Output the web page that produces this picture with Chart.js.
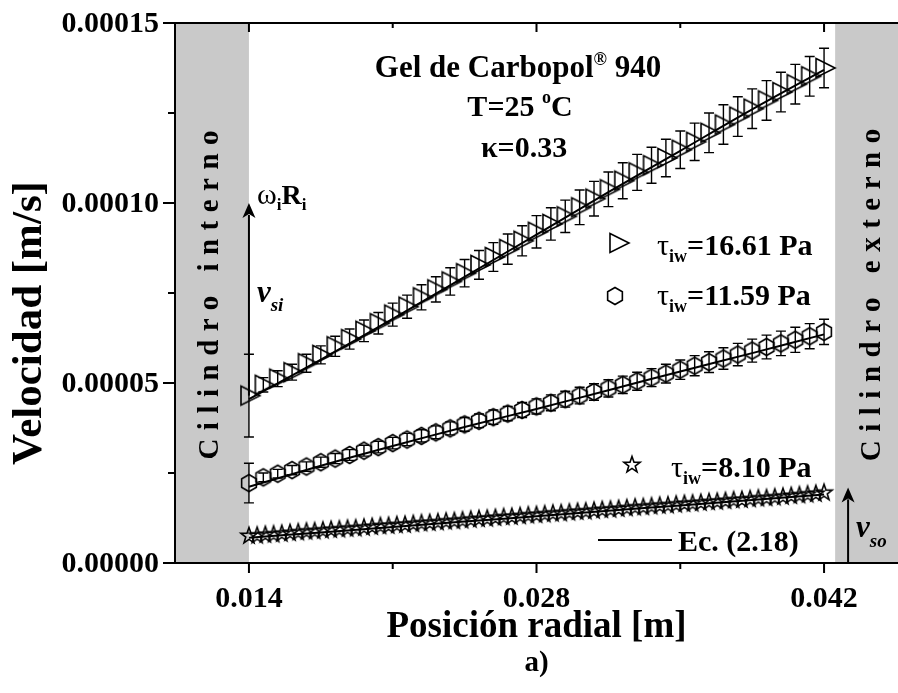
<!DOCTYPE html>
<html lang="es">
<head>
<meta charset="UTF-8">
<title>Perfil de velocidad - Gel de Carbopol 940</title>
<script src="https://cdn.jsdelivr.net/npm/chart.js"></script>
<style>
  body { margin: 0; background: #fff; }
  canvas { display: block; }
</style>
</head>
<body>
<canvas id="chart_vel" width="898" height="693"></canvas>
<script>
// posiciones radiales [m] de los perfiles con triángulos y hexágonos
const radio = [0.0140, 0.0147, 0.0154, 0.0161, 0.0168, 0.0175, 0.0182, 0.0189, 0.0196, 0.0203,
  0.0210, 0.0217, 0.0224, 0.0231, 0.0238, 0.0245, 0.0252, 0.0259, 0.0266, 0.0273,
  0.0280, 0.0287, 0.0294, 0.0301, 0.0308, 0.0315, 0.0322, 0.0329, 0.0336, 0.0343,
  0.0350, 0.0357, 0.0364, 0.0371, 0.0378, 0.0385, 0.0392, 0.0399, 0.0406, 0.0413, 0.0420];

// tau_iw = 16.61 Pa
const vel1661 = [4.65e-5, 4.95e-5, 5.12e-5, 5.30e-5, 5.55e-5, 5.78e-5, 6.02e-5, 6.22e-5, 6.45e-5, 6.66e-5,
  6.90e-5, 7.12e-5, 7.38e-5, 7.60e-5, 7.82e-5, 8.05e-5, 8.28e-5, 8.50e-5, 8.72e-5, 8.95e-5,
  9.20e-5, 9.42e-5, 9.63e-5, 9.88e-5, 10.12e-5, 10.38e-5, 10.62e-5, 10.85e-5, 11.05e-5, 11.25e-5,
  11.48e-5, 11.70e-5, 11.95e-5, 12.18e-5, 12.40e-5, 12.62e-5, 12.85e-5, 13.08e-5, 13.30e-5, 13.52e-5, 13.75e-5];
const err1661 = [1.15e-5, 0.20e-5, 0.22e-5, 0.22e-5, 0.25e-5, 0.25e-5, 0.28e-5, 0.28e-5, 0.30e-5, 0.30e-5,
  0.32e-5, 0.32e-5, 0.35e-5, 0.35e-5, 0.38e-5, 0.38e-5, 0.40e-5, 0.40e-5, 0.42e-5, 0.42e-5,
  0.45e-5, 0.45e-5, 0.45e-5, 0.48e-5, 0.48e-5, 0.48e-5, 0.50e-5, 0.50e-5, 0.50e-5, 0.52e-5,
  0.52e-5, 0.52e-5, 0.55e-5, 0.55e-5, 0.55e-5, 0.55e-5, 0.55e-5, 0.55e-5, 0.55e-5, 0.55e-5, 0.55e-5];

// tau_iw = 11.59 Pa
const vel1159 = [2.22e-5, 2.38e-5, 2.48e-5, 2.58e-5, 2.68e-5, 2.80e-5, 2.90e-5, 3.00e-5, 3.12e-5, 3.22e-5,
  3.33e-5, 3.43e-5, 3.53e-5, 3.63e-5, 3.74e-5, 3.85e-5, 3.95e-5, 4.05e-5, 4.15e-5, 4.25e-5,
  4.35e-5, 4.45e-5, 4.55e-5, 4.65e-5, 4.75e-5, 4.85e-5, 4.95e-5, 5.05e-5, 5.15e-5, 5.26e-5,
  5.37e-5, 5.48e-5, 5.58e-5, 5.68e-5, 5.79e-5, 5.90e-5, 6.00e-5, 6.10e-5, 6.20e-5, 6.30e-5, 6.42e-5];
const err1159 = [0.55e-5, 0.12e-5, 0.12e-5, 0.13e-5, 0.13e-5, 0.14e-5, 0.14e-5, 0.15e-5, 0.15e-5, 0.16e-5,
  0.16e-5, 0.17e-5, 0.17e-5, 0.18e-5, 0.18e-5, 0.19e-5, 0.19e-5, 0.20e-5, 0.20e-5, 0.21e-5,
  0.21e-5, 0.22e-5, 0.22e-5, 0.23e-5, 0.23e-5, 0.24e-5, 0.24e-5, 0.25e-5, 0.25e-5, 0.26e-5,
  0.27e-5, 0.28e-5, 0.29e-5, 0.30e-5, 0.31e-5, 0.32e-5, 0.33e-5, 0.34e-5, 0.35e-5, 0.35e-5, 0.35e-5];

// tau_iw = 8.10 Pa (malla más fina)
const radioEstrella = [0.0140, 0.0144, 0.0148, 0.0152, 0.0156, 0.0160, 0.0164, 0.0168, 0.0172, 0.0176,
  0.0180, 0.0184, 0.0188, 0.0192, 0.0196, 0.0200, 0.0204, 0.0208, 0.0212, 0.0216,
  0.0220, 0.0224, 0.0228, 0.0232, 0.0236, 0.0240, 0.0244, 0.0248, 0.0252, 0.0256,
  0.0260, 0.0264, 0.0268, 0.0272, 0.0276, 0.0280, 0.0284, 0.0288, 0.0292, 0.0296,
  0.0300, 0.0304, 0.0308, 0.0312, 0.0316, 0.0320, 0.0324, 0.0328, 0.0332, 0.0336,
  0.0340, 0.0344, 0.0348, 0.0352, 0.0356, 0.0360, 0.0364, 0.0368, 0.0372, 0.0376,
  0.0380, 0.0384, 0.0388, 0.0392, 0.0396, 0.0400, 0.0404, 0.0408, 0.0412, 0.0416, 0.0420];
const vel810 = [0.75e-5, 0.76e-5, 0.78e-5, 0.79e-5, 0.81e-5, 0.83e-5, 0.85e-5, 0.87e-5, 0.88e-5, 0.90e-5,
  0.92e-5, 0.93e-5, 0.95e-5, 0.96e-5, 0.98e-5, 1.00e-5, 1.02e-5, 1.03e-5, 1.05e-5, 1.06e-5,
  1.08e-5, 1.10e-5, 1.11e-5, 1.13e-5, 1.15e-5, 1.16e-5, 1.18e-5, 1.20e-5, 1.22e-5, 1.23e-5,
  1.25e-5, 1.27e-5, 1.28e-5, 1.30e-5, 1.32e-5, 1.33e-5, 1.35e-5, 1.37e-5, 1.38e-5, 1.40e-5,
  1.42e-5, 1.43e-5, 1.45e-5, 1.47e-5, 1.48e-5, 1.50e-5, 1.52e-5, 1.54e-5, 1.55e-5, 1.57e-5,
  1.59e-5, 1.60e-5, 1.62e-5, 1.64e-5, 1.65e-5, 1.67e-5, 1.69e-5, 1.70e-5, 1.72e-5, 1.74e-5,
  1.75e-5, 1.77e-5, 1.79e-5, 1.80e-5, 1.82e-5, 1.84e-5, 1.86e-5, 1.88e-5, 1.90e-5, 1.92e-5, 1.95e-5];

// Ec. (2.18)
const radioModelo = [0.014, 0.0175, 0.021, 0.0245, 0.028, 0.0315, 0.035, 0.0385, 0.042];
const modelo1661 = [4.55e-5, 5.65e-5, 6.78e-5, 7.95e-5, 9.12e-5, 10.30e-5, 11.45e-5, 12.60e-5, 13.70e-5];
const modelo1159 = [2.12e-5, 2.70e-5, 3.25e-5, 3.78e-5, 4.28e-5, 4.80e-5, 5.32e-5, 5.83e-5, 6.35e-5];
const modelo810 = [0.70e-5, 0.85e-5, 1.00e-5, 1.15e-5, 1.30e-5, 1.45e-5, 1.60e-5, 1.75e-5, 1.90e-5];

// ejes
const ticksX = [0.014, 0.028, 0.042];
const ticksXmenor = [0.021, 0.035];
const ticksY = [0, 0.00005, 0.0001, 0.00015];
const ticksYmenor = [0.000025, 0.000075, 0.000125];
const etiquetasX = ['0.014', '0.028', '0.042'];
const etiquetasY = ['0.00000', '0.00005', '0.00010', '0.00015'];

// paredes de los cilindros y velocidades de referencia
const paredInterna = 0.014;
const paredExterna = 0.04254;
const omegaRi = 0.0001;
const radioVso = 0.04317;
const vso = 2.1e-5;

const SERIF = '"Liberation Serif", "Times New Roman", serif';

function marca(trazo) {
  const c = document.createElement('canvas');
  c.width = 28; c.height = 28;
  const g = c.getContext('2d');
  g.translate(14, 14);
  g.strokeStyle = '#000';
  g.lineWidth = 1.6;
  g.beginPath();
  trazo(g);
  g.closePath();
  g.stroke();
  return c;
}

const triangulo = marca(g => { g.moveTo(-8, -9.5); g.lineTo(11, 0); g.lineTo(-8, 9.5); });
const hexagono = marca(g => {
  for (let k = 0; k < 6; k++) {
    const a = (-90 + 60 * k) * Math.PI / 180;
    g.lineTo(8.5 * Math.cos(a), 8.5 * Math.sin(a));
  }
});
const estrella = marca(g => {
  for (let k = 0; k < 10; k++) {
    const a = (-90 + 36 * k) * Math.PI / 180;
    const r = k % 2 ? 3.4 : 8.5;
    g.lineTo(r * Math.cos(a), r * Math.sin(a));
  }
});

const puntos = (xs, ys) => xs.map((x, i) => ({ x: x, y: ys[i] }));

// texto con sub/superíndices: [texto, fuente, desplazamiento vertical]
function texto(ctx, x, y, partes, align) {
  let w = 0;
  partes.forEach(p => { ctx.font = p[1]; w += ctx.measureText(p[0]).width; });
  let cx = align === 'center' ? x - w / 2 : (align === 'right' ? x - w : x);
  partes.forEach(p => {
    ctx.font = p[1];
    ctx.fillText(p[0], cx, y + (p[2] || 0));
    cx += ctx.measureText(p[0]).width;
  });
}

function flecha(ctx, x, y0, y1) {
  ctx.beginPath();
  ctx.moveTo(x, y0);
  ctx.lineTo(x, y1 + 12);
  ctx.lineWidth = 2;
  ctx.stroke();
  ctx.beginPath();
  ctx.moveTo(x, y1);
  ctx.lineTo(x - 6.5, y1 + 15);
  ctx.lineTo(x, y1 + 11);
  ctx.lineTo(x + 6.5, y1 + 15);
  ctx.closePath();
  ctx.fill();
}

function textoVertical(ctx, cx, cy, s, font, esp) {
  ctx.save();
  ctx.translate(cx, cy);
  ctx.rotate(-Math.PI / 2);
  ctx.font = font;
  ctx.letterSpacing = esp + 'px';
  const w = ctx.measureText(s).width - esp;
  ctx.textBaseline = 'middle';
  ctx.textAlign = 'left';
  ctx.fillText(s, -w / 2, 0);
  ctx.restore();
}

// franjas grises de los cilindros
const paredes = {
  id: 'paredes',
  beforeDatasetsDraw(chart) {
    const { ctx, chartArea: a, scales: { x } } = chart;
    const xi = x.getPixelForValue(paredInterna);
    const xe = x.getPixelForValue(paredExterna);
    ctx.save();
    ctx.fillStyle = '#c9c9c9';
    ctx.fillRect(a.left, a.top, xi - a.left, a.bottom - a.top);
    ctx.fillRect(xe, a.top, a.right - xe, a.bottom - a.top);
    ctx.fillStyle = '#000';
    const cy = (a.top + a.bottom) / 2 + 2;
    textoVertical(ctx, (a.left + xi) / 2 - 1, cy, 'Cilindro interno', 'bold 29px ' + SERIF, 8.5);
    textoVertical(ctx, xe + 37, cy, 'Cilindro externo', 'bold 29px ' + SERIF, 8.5);
    ctx.restore();
  }
};

// barras de error
const barras = {
  id: 'barras',
  afterDatasetsDraw(chart) {
    const { ctx, scales: { x, y } } = chart;
    ctx.save();
    ctx.strokeStyle = '#000';
    ctx.lineWidth = 1.4;
    [[vel1661, err1661], [vel1159, err1159]].forEach(([v, e]) => {
      radio.forEach((r, i) => {
        const px = x.getPixelForValue(r);
        const ya = y.getPixelForValue(v[i] + e[i]);
        const yb = y.getPixelForValue(v[i] - e[i]);
        ctx.beginPath();
        ctx.moveTo(px, ya); ctx.lineTo(px, yb);
        ctx.moveTo(px - 5, ya); ctx.lineTo(px + 5, ya);
        ctx.moveTo(px - 5, yb); ctx.lineTo(px + 5, yb);
        ctx.stroke();
      });
    });
    ctx.restore();
  }
};

// marco, marcas de ejes, etiquetas y anotaciones
const marco = {
  id: 'marco',
  afterDraw(chart) {
    const { ctx, chartArea: a, scales: { x, y } } = chart;
    ctx.save();
    ctx.strokeStyle = '#000';
    ctx.fillStyle = '#000';
    ctx.lineWidth = 2;
    ctx.beginPath();
    ctx.moveTo(a.right, a.top); ctx.lineTo(a.left, a.top);
    ctx.lineTo(a.left, a.bottom); ctx.lineTo(a.right, a.bottom);
    ctx.stroke();

    ctx.beginPath();
    x.ticks.forEach(t => {
      const px = x.getPixelForValue(t.value);
      ctx.moveTo(px, a.bottom); ctx.lineTo(px, a.bottom + 10);
      ctx.moveTo(px, a.top); ctx.lineTo(px, a.top + 9);
    });
    ticksXmenor.forEach(v => {
      const px = x.getPixelForValue(v);
      ctx.moveTo(px, a.bottom); ctx.lineTo(px, a.bottom + 6);
      ctx.moveTo(px, a.top); ctx.lineTo(px, a.top + 5);
    });
    y.ticks.forEach(t => {
      const py = y.getPixelForValue(t.value);
      ctx.moveTo(a.left - 12, py); ctx.lineTo(a.left, py);
    });
    ticksYmenor.forEach(v => {
      const py = y.getPixelForValue(v);
      ctx.moveTo(a.left - 7, py); ctx.lineTo(a.left, py);
    });
    ctx.stroke();

    // etiquetas de los ejes
    ctx.font = 'bold 30px ' + SERIF;
    ctx.textBaseline = 'alphabetic';
    ctx.textAlign = 'center';
    x.ticks.forEach((t, i) => ctx.fillText(etiquetasX[i], x.getPixelForValue(t.value), a.bottom + 44));
    ctx.textAlign = 'right';
    ctx.textBaseline = 'middle';
    y.ticks.forEach((t, i) => ctx.fillText(etiquetasY[i], a.left - 16, y.getPixelForValue(t.value) + 1));

    ctx.textAlign = 'center';
    ctx.textBaseline = 'alphabetic';
    ctx.font = 'bold 37px ' + SERIF;
    ctx.fillText('Posición radial [m]', (a.left + a.right) / 2, a.bottom + 74);
    ctx.font = 'bold 29px ' + SERIF;
    ctx.fillText('a)', (a.left + a.right) / 2, a.bottom + 108);
    ctx.save();
    ctx.translate(30, 323);
    ctx.rotate(-Math.PI / 2);
    ctx.textBaseline = 'middle';
    ctx.font = 'bold 43px ' + SERIF;
    ctx.fillText('Velocidad [m/s]', 0, 0);
    ctx.restore();

    // condiciones del ensayo
    ctx.textAlign = 'left';
    const b30 = 'bold 30px ' + SERIF;
    const b18 = 'bold 18px ' + SERIF;
    const n30 = '30px ' + SERIF;
    texto(ctx, 518, 77, [['Gel de Carbopol', 'bold 31px ' + SERIF], ['®', b18, -12], [' 940', 'bold 31px ' + SERIF]], 'center');
    texto(ctx, 520, 116, [['T=25 ', b30], ['o', b18, -13], ['C', b30]], 'center');
    texto(ctx, 524, 157, [['κ=0.33', b30]], 'center');

    // velocidad del cilindro interno y deslizamientos
    const xi = x.getPixelForValue(paredInterna);
    flecha(ctx, xi, y.getPixelForValue(vel1661[0]), y.getPixelForValue(omegaRi));
    texto(ctx, xi + 8, 204, [['ω', '30px ' + SERIF], ['i', 'bold 17px ' + SERIF, 6], ['R', 'bold 28px ' + SERIF], ['i', 'bold 17px ' + SERIF, 6]]);
    texto(ctx, xi + 8, 302, [['v', 'italic bold 31px ' + SERIF], ['si', 'italic bold 19px ' + SERIF, 9]]);
    const xo = x.getPixelForValue(radioVso);
    flecha(ctx, xo, a.bottom, y.getPixelForValue(vso));
    texto(ctx, xo + 8, 537, [['v', 'italic bold 31px ' + SERIF], ['so', 'italic bold 19px ' + SERIF, 10]]);

    // leyenda
    ctx.drawImage(triangulo, 618 - 14, 243 - 14);
    ctx.drawImage(hexagono, 615 - 14, 296 - 14);
    ctx.drawImage(estrella, 632 - 14, 465 - 14);
    texto(ctx, 657, 255, [['τ', n30], ['iw', b18, 7], ['=16.61 Pa', b30]]);
    texto(ctx, 657, 305, [['τ', n30], ['iw', b18, 7], ['=11.59 Pa', b30]]);
    texto(ctx, 671, 477, [['τ', n30], ['iw', b18, 7], ['=8.10 Pa', b30]]);
    ctx.lineWidth = 2.2;
    ctx.beginPath();
    ctx.moveTo(598, 540); ctx.lineTo(672, 540);
    ctx.stroke();
    texto(ctx, 678, 551, [['Ec. (2.18)', b30]]);
    ctx.restore();
  }
};

const serieMarcas = (datos, estilo) => ({
  data: datos,
  showLine: false,
  pointStyle: estilo,
  pointRadius: 8,
  pointHoverRadius: 8
});
const serieModelo = datos => ({
  data: datos,
  showLine: true,
  borderColor: '#000',
  borderWidth: 2,
  pointRadius: 0,
  tension: 0.3
});

new Chart(document.getElementById('chart_vel'), {
  type: 'scatter',
  data: {
    datasets: [
      serieModelo(puntos(radioModelo, modelo1661)),
      serieModelo(puntos(radioModelo, modelo1159)),
      serieModelo(puntos(radioModelo, modelo810)),
      serieMarcas(puntos(radio, vel1661), triangulo),
      serieMarcas(puntos(radio, vel1159), hexagono),
      serieMarcas(puntos(radioEstrella, vel810), estrella)
    ]
  },
  options: {
    responsive: false,
    animation: false,
    layout: { autoPadding: false, padding: { top: 23, right: 0, left: 0, bottom: 0 } },
    plugins: { legend: { display: false }, tooltip: { enabled: false } },
    scales: {
      x: {
        type: 'linear',
        min: 0.0104,
        max: 0.0456,
        afterBuildTicks: s => { s.ticks = ticksX.map(v => ({ value: v })); },
        afterFit: s => { s.height = 130; },
        ticks: { display: false },
        grid: { display: false },
        border: { display: false }
      },
      y: {
        min: 0,
        max: 0.00015,
        afterBuildTicks: s => { s.ticks = ticksY.map(v => ({ value: v })); },
        afterFit: s => { s.width = 175; },
        ticks: { display: false },
        grid: { display: false },
        border: { display: false }
      }
    }
  },
  plugins: [paredes, barras, marco]
});
</script>
</body>
</html>
